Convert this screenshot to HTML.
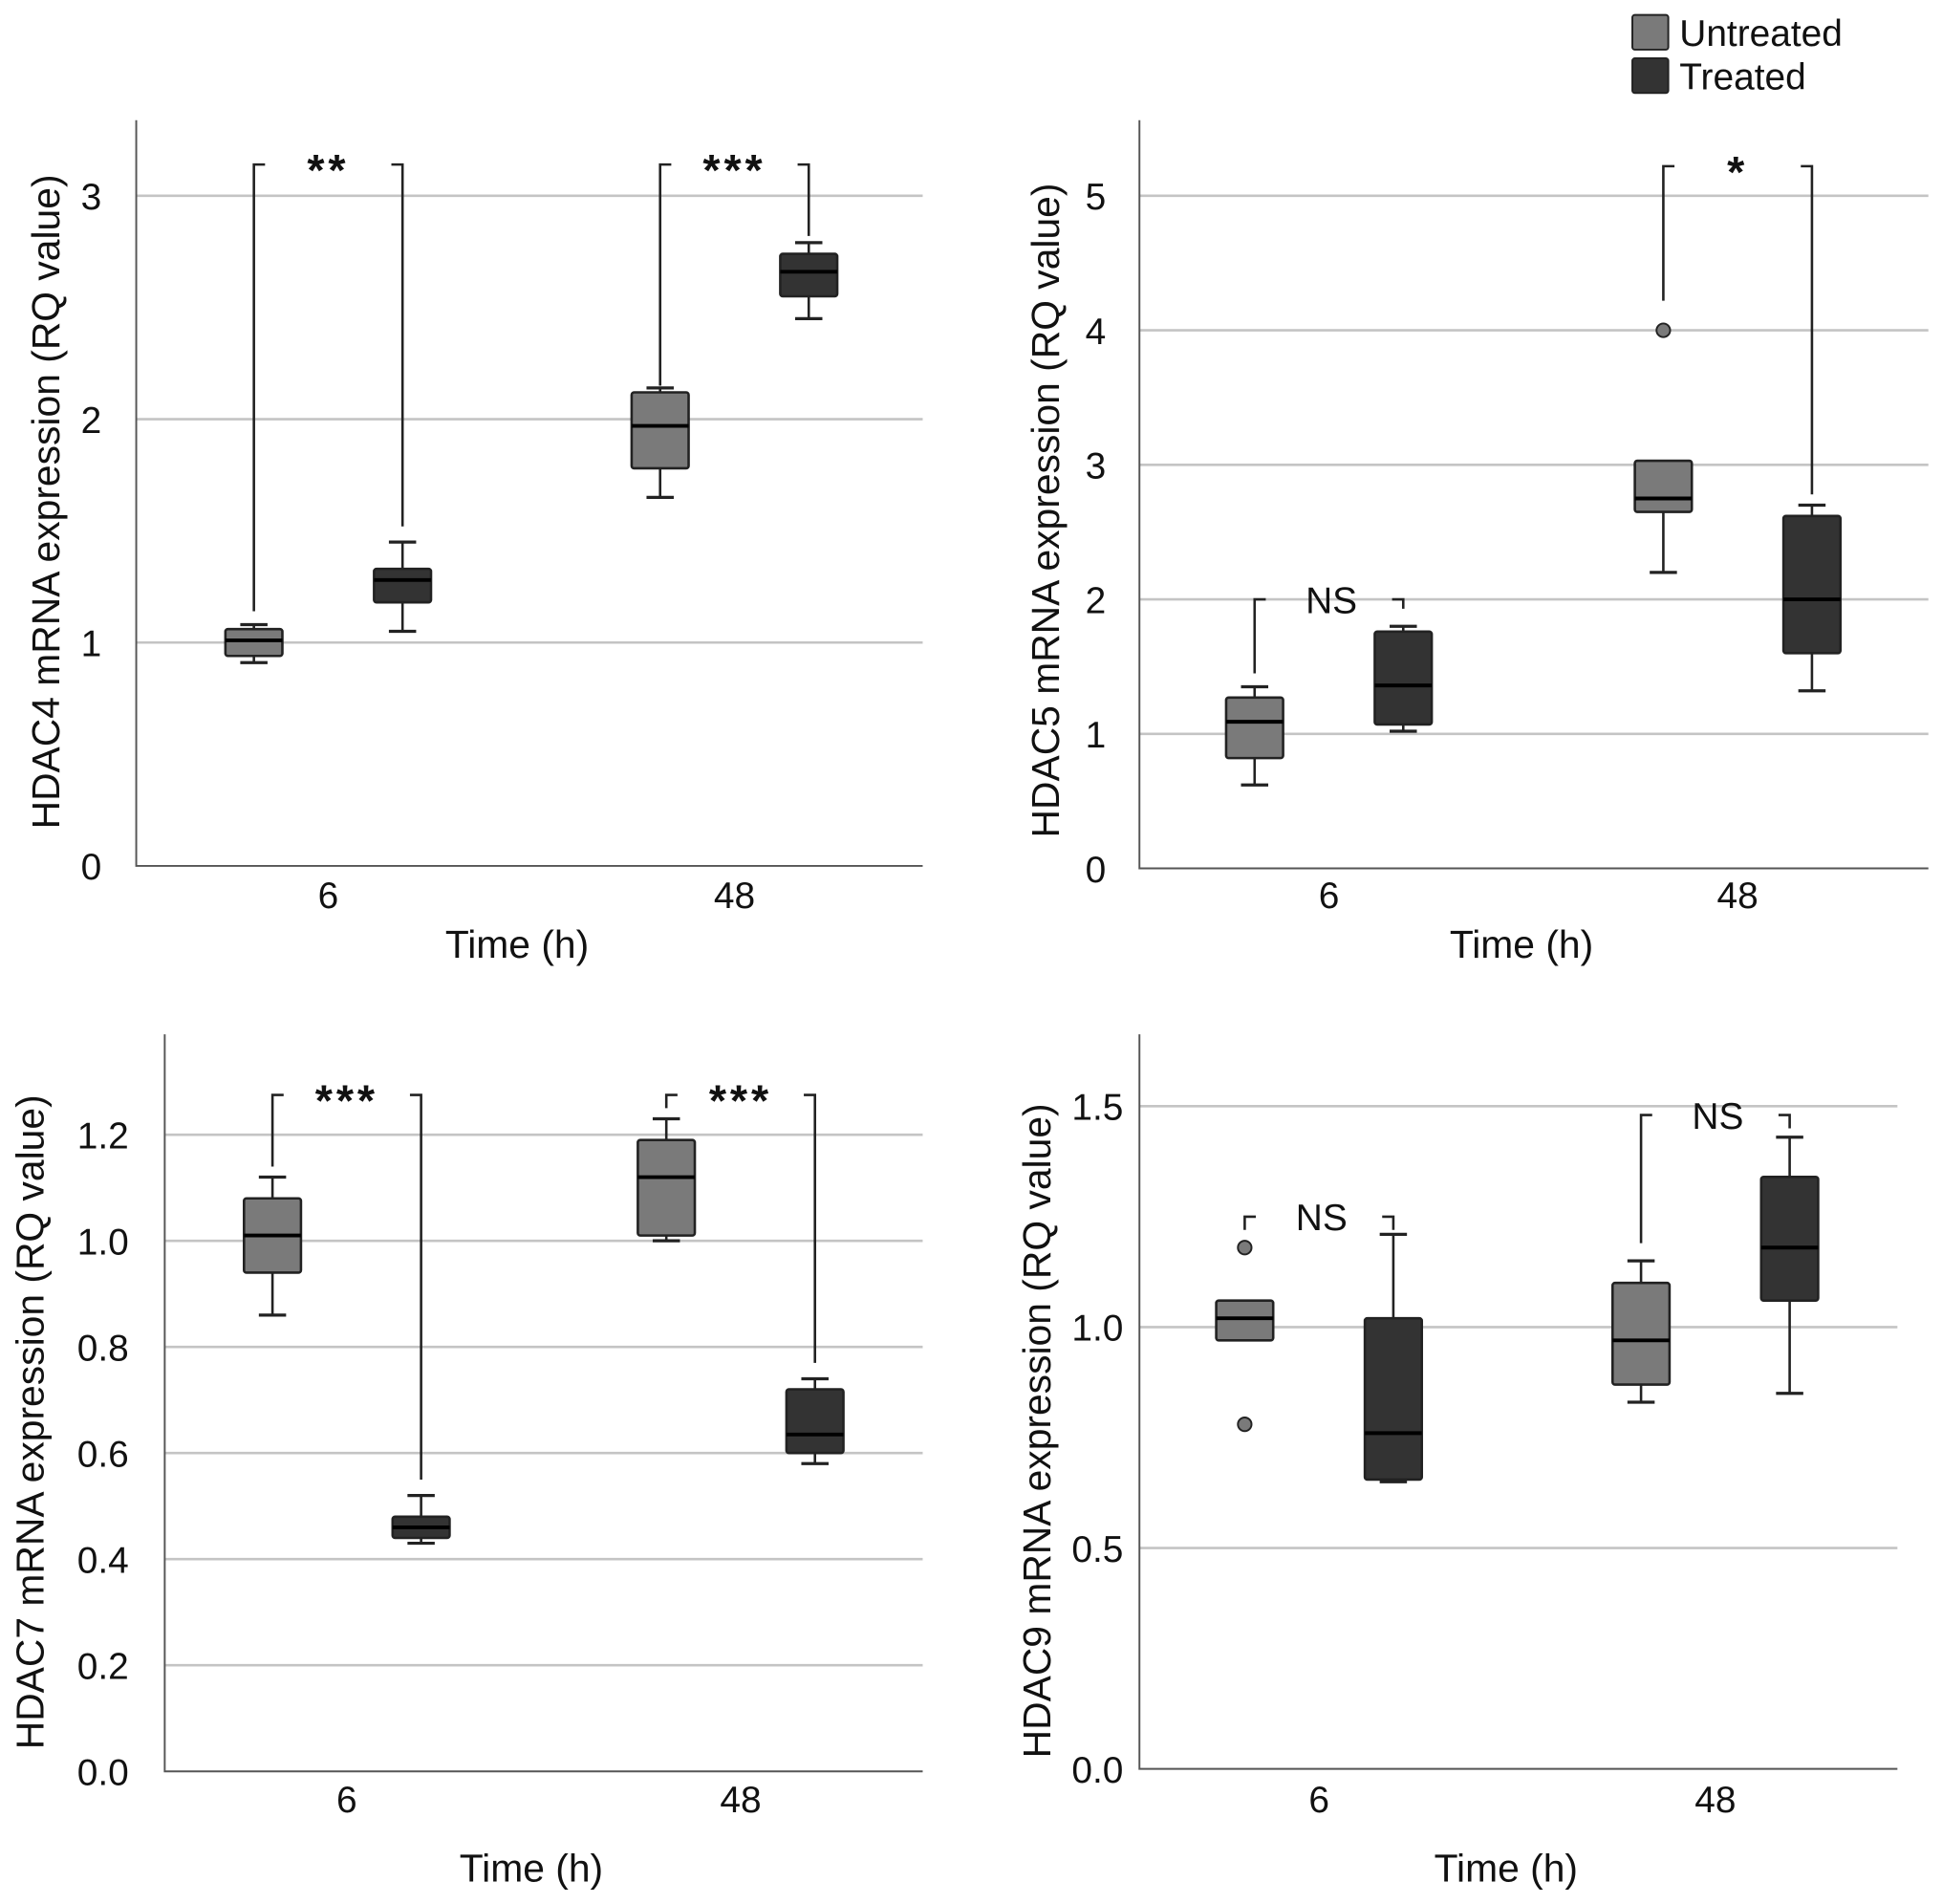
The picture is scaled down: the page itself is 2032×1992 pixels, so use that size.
<!DOCTYPE html>
<html><head><meta charset="utf-8"><style>
html,body{margin:0;padding:0;background:#fff;}
svg{display:block;font-family:"Liberation Sans",sans-serif;}
</style></head><body>
<svg id="chart" width="2032" height="1992" viewBox="0 0 1568 1537" xmlns="http://www.w3.org/2000/svg">
<g>
<rect x="1318" y="12" width="29" height="28" rx="2" fill="#7a7a7a" stroke="#222" stroke-width="1.5"/>
<text x="1356" y="37" font-size="30" fill="#111">Untreated</text>
<rect x="1318" y="47" width="29" height="28" rx="2" fill="#333" stroke="#222" stroke-width="1.5"/>
<text x="1356" y="72" font-size="30" fill="#111">Treated</text>
</g>
</svg>
<script>
// Data arrays: [whiskerLow, q1, median, q3, whiskerHigh] per group: 6U, 6T, 48U, 48T
const categories = ["6", "48"];
const hdac4Stats = [[0.91,0.94,1.01,1.06,1.08],[1.05,1.18,1.28,1.33,1.45],[1.65,1.78,1.97,2.12,2.14],[2.45,2.55,2.66,2.74,2.79]];
const hdac5Stats = [[0.62,0.82,1.09,1.27,1.35],[1.02,1.07,1.36,1.76,1.80],[2.20,2.65,2.75,3.03,3.03],[1.32,1.60,2.00,2.62,2.70]];
const hdac7Stats = [[0.86,0.94,1.01,1.08,1.12],[0.43,0.44,0.46,0.48,0.52],[1.00,1.01,1.12,1.19,1.23],[0.58,0.60,0.635,0.72,0.74]];
const hdac9Stats = [[0.97,0.97,1.02,1.06,1.06],[0.65,0.655,0.76,1.02,1.21],[0.83,0.87,0.97,1.10,1.15],[0.85,1.06,1.18,1.34,1.43]];
const hdac4Outliers = [[],[],[],[]];
const hdac5Outliers = [[],[],[4.0],[]];
const hdac7Outliers = [[],[],[],[]];
const hdac9Outliers = [[1.18,0.78],[],[],[]];
const hdac4Ticks = [0,1,2,3];
const hdac5Ticks = [0,1,2,3,4,5];
const hdac7Ticks = [0,0.2,0.4,0.6,0.8,1.0,1.2];
const hdac9Ticks = [0,0.5,1.0,1.5];
const hdac4Sig = ["**","***"];
const hdac5Sig = ["NS","*"];
const hdac7Sig = ["***","***"];
const hdac9Sig = ["NS","NS"];
// bracket values: [top, leftLegEnd, rightLegEnd] per category
const hdac4Brackets = [[3.14,1.14,1.52],[3.14,2.15,2.82]];
const hdac5Brackets = [[2.0,1.45,1.93],[5.22,4.22,2.78]];
const hdac7Brackets = [[1.275,1.14,0.55],[1.275,1.25,0.77]];
const hdac9Brackets = [[1.25,1.22,1.22],[1.48,1.19,1.45]];

const NS="http://www.w3.org/2000/svg";
const svg=document.getElementById('chart');
function mk(tag,attrs,parent){const e=document.createElementNS(NS,tag);for(const k in attrs)e.setAttribute(k,attrs[k]);(parent||svg).appendChild(e);return e;}

const panels=[
 {id:'hdac4',title:'HDAC4 mRNA expression (RQ value)',x0:110,x1:745,yTop:97,yBot:699,vmin:0,vmax:3,yAt3:158,stats:hdac4Stats,out:hdac4Outliers,ticks:hdac4Ticks,dec:0,sig:hdac4Sig,br:hdac4Brackets,cx:[265,593],tlx:82,ytx:48,ytitleY:405,xlabY:733,xtY:773},
 {id:'hdac5',title:'HDAC5 mRNA expression (RQ value)',x0:920,x1:1557,yTop:97,yBot:701,vmin:0,vmax:5,yAt3:158,stats:hdac5Stats,out:hdac5Outliers,ticks:hdac5Ticks,dec:0,sig:hdac5Sig,br:hdac5Brackets,cx:[1073,1403],tlx:893,ytx:855,ytitleY:412,xlabY:733,xtY:773},
 {id:'hdac7',title:'HDAC7 mRNA expression (RQ value)',x0:133,x1:745,yTop:835,yBot:1430,vmin:0,vmax:1.2,yAt3:916,stats:hdac7Stats,out:hdac7Outliers,ticks:hdac7Ticks,dec:1,sig:hdac7Sig,br:hdac7Brackets,cx:[280,598],tlx:104,ytx:35,ytitleY:1148,xlabY:1463,xtY:1519},
 {id:'hdac9',title:'HDAC9 mRNA expression (RQ value)',x0:920,x1:1532,yTop:835,yBot:1428,vmin:0,vmax:1.5,yAt3:893,stats:hdac9Stats,out:hdac9Outliers,ticks:hdac9Ticks,dec:1,sig:hdac9Sig,br:hdac9Brackets,cx:[1065,1385],tlx:907,ytx:848,ytitleY:1155,xlabY:1463,xtY:1519}
];
panels.forEach(p=>{
 const g=mk('g',{});
 
 
 const y=v=>p.yBot-(v-p.vmin)/(p.vmax-p.vmin)*(p.yBot-p.yAt3);
 p.ticks.forEach(t=>{
  if(t>0){const gl=mk('line',{x1:p.x0,x2:p.x1,y1:y(t),y2:y(t),stroke:'#c4c4c4','stroke-width':2},g);
   
   }
  const tl=mk('text',{x:p.tlx,y:y(t)+11,'font-size':30,'text-anchor':'end',fill:'#111'},g);
  
  
  tl.textContent=t.toFixed(p.dec);
 });
 const ax=mk('path',{d:`M${p.x0},${p.yTop}V${p.yBot}H${p.x1}`,fill:'none',stroke:'#555','stroke-width':1.5},g);
 
 
 const yt=mk('text',{x:0,y:0,'font-size':31.5,'text-anchor':'middle',fill:'#111',transform:`translate(${p.ytx},${p.ytitleY}) rotate(-90)`},g);
 
 
 yt.textContent=p.title;
 const xt=mk('text',{x:(p.x0+p.x1)/2-10,y:p.xtY,'font-size':31.5,'text-anchor':'middle',fill:'#111'},g);
 
 
 xt.textContent='Time (h)';
 categories.forEach((c,ci)=>{
  const cl=mk('text',{x:p.cx[ci],y:p.xlabY,'font-size':30,'text-anchor':'middle',fill:'#111'},g);
  
  
  cl.textContent=c;
  [0,1].forEach(s=>{
   const gi=ci*2+s; const st=p.stats[gi]; const bx=p.cx[ci]+(s?60:-60);
   const col=s?'#333':'#7a7a7a';
   const bg=mk('g',{},g);
   
   
   mk('line',{x1:bx,x2:bx,y1:y(st[0]),y2:y(st[4]),stroke:'#222','stroke-width':2},bg);
   if(st[0]<st[1]) mk('line',{x1:bx-11,x2:bx+11,y1:y(st[0]),y2:y(st[0]),stroke:'#222','stroke-width':2.5},bg);
   if(st[4]>st[3]) mk('line',{x1:bx-11,x2:bx+11,y1:y(st[4]),y2:y(st[4]),stroke:'#222','stroke-width':2.5},bg);
   mk('rect',{x:bx-23,y:y(st[3]),width:46,height:Math.max(2,y(st[1])-y(st[3])),rx:2,fill:col,stroke:'#222','stroke-width':2},bg);
   mk('line',{x1:bx-23,x2:bx+23,y1:y(st[2]),y2:y(st[2]),stroke:'#000','stroke-width':3},bg);
   p.out[gi].forEach(o=>{
    const oc=mk('circle',{cx:bx,cy:y(o),r:5.5,fill:col,stroke:'#222','stroke-width':1.5},g);
    
    
   });
  });
  const b=p.br[ci]; const lx=p.cx[ci]-60, rx=p.cx[ci]+60;
  const bp=mk('path',{d:`M${lx},${y(b[1])}V${y(b[0])}H${lx+9}M${rx-9},${y(b[0])}H${rx}V${y(b[2])}`,fill:'none',stroke:'#222','stroke-width':2},g);
  
  
  const sg=p.sig[ci];
  const isNS=sg==='NS';
  const st=mk('text',{x:p.cx[ci]+(isNS?2:0),y:y(b[0])+(isNS?11:17),'font-size':isNS?30:36,'font-weight':isNS?'normal':'bold','letter-spacing':isNS?0:3,'text-anchor':'middle',fill:'#111'},g);
  
  
  st.textContent=sg;
 });
});
</script>
</body></html>
